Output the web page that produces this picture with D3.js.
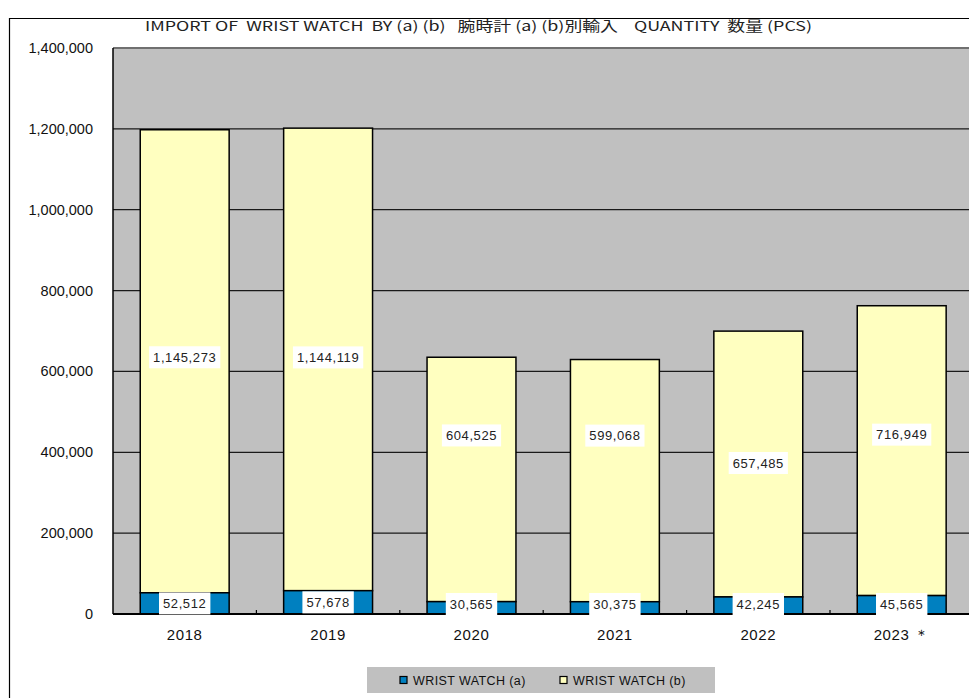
<!DOCTYPE html>
<html>
<head>
<meta charset="utf-8">
<script src="https://cdn.jsdelivr.net/npm/d3@7"></script>
<style>
  body { margin: 0; background: #fff; }
  svg { display: block; }
</style>
</head>
<body>
<div id="chart"></div>
<script>
// data
const years = ["2018", "2019", "2020", "2021", "2022", "2023＊"]
const watchA = [52512, 57678, 30565, 30375, 42245, 45565]
const watchB = [1145273, 1144119, 604525, 599068, 657485, 716949]
const yTicks = [0, 200000, 400000, 600000, 800000, 1000000, 1200000, 1400000]
const seriesNames = ["WRIST WATCH (a)", "WRIST WATCH (b)"]

const width = 969
const height = 698

const svg = d3.select("#chart")
  .append("svg")
    .attr("width", width)
    .attr("height", height)

// outer frame (only left and top visible)
svg.append("path")
  .attr("d", "M9.5,698 L9.5,18.5 L969,18.5")
  .attr("fill", "none")
  .attr("stroke", "#000")
  .attr("stroke-width", 1.2)

const plotLeft = 113, plotTop = 48, plotBottom = 614
const step = 143.4

const x = d3.scaleBand()
  .domain(years)
  .range([plotLeft, plotLeft + step * years.length])
  .padding(0)

const y = d3.scaleLinear()
  .domain([0, 1400000])
  .range([plotBottom, plotTop])

const barW = x.bandwidth() * 0.62

// plot background
svg.append("rect")
  .attr("x", plotLeft)
  .attr("y", plotTop)
  .attr("width", width - plotLeft + 10)
  .attr("height", plotBottom - plotTop)
  .attr("fill", "#c0c0c0")

// gridlines
svg.append("g")
  .selectAll("line")
  .data(yTicks.filter(d => d > 0 && d < 1400000))
  .join("line")
    .attr("x1", plotLeft)
    .attr("x2", width)
    .attr("y1", d => y(d))
    .attr("y2", d => y(d))
    .attr("stroke", "#1a1a1a")
    .attr("stroke-width", 1.3)

// top border of plot
svg.append("line")
  .attr("x1", plotLeft).attr("x2", width)
  .attr("y1", plotTop).attr("y2", plotTop)
  .attr("stroke", "#707070")
  .attr("stroke-width", 2)

// y labels
svg.append("g")
  .selectAll("text")
  .data(yTicks)
  .join("text")
    .attr("x", 93)
    .attr("y", d => y(d) + 5)
    .attr("text-anchor", "end")
    .attr("font-family", "Liberation Sans, Arial, sans-serif")
    .attr("font-size", 14.5)
    .attr("letter-spacing", 0)
    .attr("fill", "#111")
    .text(d => d3.format(",")(d))

// bars
const bars = years.map((yr, i) => ({ yr, a: watchA[i], b: watchB[i] }))
const cx = d => x(d.yr) + x.bandwidth() / 2

svg.append("g")
  .selectAll("rect")
  .data(bars)
  .join("rect")
    .attr("x", d => cx(d) - barW / 2)
    .attr("y", d => y(d.a + d.b))
    .attr("width", barW)
    .attr("height", d => y(d.a) - y(d.a + d.b))
    .attr("fill", "#ffffc0")
    .attr("stroke", "#000")
    .attr("stroke-width", 1.5)

svg.append("g")
  .selectAll("rect")
  .data(bars)
  .join("rect")
    .attr("x", d => cx(d) - barW / 2)
    .attr("y", d => y(d.a))
    .attr("width", barW)
    .attr("height", d => y(0) - y(d.a))
    .attr("fill", "#0080c0")
    .attr("stroke", "#000")
    .attr("stroke-width", 1.5)

// left axis and zero line
svg.append("line")
  .attr("x1", plotLeft).attr("x2", plotLeft)
  .attr("y1", plotTop).attr("y2", plotBottom)
  .attr("stroke", "#000").attr("stroke-width", 1.5)
svg.append("line")
  .attr("x1", plotLeft).attr("x2", width)
  .attr("y1", plotBottom).attr("y2", plotBottom)
  .attr("stroke", "#000").attr("stroke-width", 2)

// inner ticks at category boundaries
svg.append("g")
  .selectAll("line")
  .data(years.slice(1))
  .join("line")
    .attr("x1", d => x(d)).attr("x2", d => x(d))
    .attr("y1", plotBottom).attr("y2", plotBottom - 4)
    .attr("stroke", "#000").attr("stroke-width", 1.2)

// x labels
svg.append("g")
  .selectAll("text")
  .data(years)
  .join("text")
    .attr("x", d => x(d) + x.bandwidth() / 2)
    .attr("y", 640)
    .attr("text-anchor", "middle")
    .attr("font-family", "Liberation Sans, Arial, sans-serif")
    .attr("font-size", 15)
    .attr("letter-spacing", 0.6)
    .attr("fill", "#111")
    .text(d => d.replace("＊", " ＊"))

// data labels, white boxes
// excel had some (b) labels nudged upward from segment middle (px)
const bShift = [4, 2, 44, 45, 1, 16]
const fmt = d3.format(",")

function addLabel(g, px, py, txt) {
  const t = g.append("text")
    .attr("x", px)
    .attr("y", py + 4.5)
    .attr("text-anchor", "middle")
    .attr("font-family", "Liberation Sans, Arial, sans-serif")
    .attr("font-size", 13)
    .attr("letter-spacing", 0.6)
    .attr("fill", "#222")
    .text(txt)
  const w = t.node().getComputedTextLength() + 8
  g.insert("rect", "text")
    .attr("x", px - w / 2)
    .attr("y", py - 11)
    .attr("width", w)
    .attr("height", 22)
    .attr("fill", "#fff")
}

bars.forEach((d, i) => {
  const gb = svg.append("g")
  addLabel(gb, cx(d), (y(d.a) + y(d.a + d.b)) / 2 - bShift[i], fmt(d.b))
  const ga = svg.append("g")
  addLabel(ga, cx(d), Math.min((y(0) + y(d.a)) / 2, 604), fmt(d.a))
})

// title
svg.append("text")
  .attr("x", 145)
  .attr("y", 31)
  .attr("font-family", "Noto Sans CJK JP, sans-serif")
  .attr("font-size", 13.5)
  .attr("textLength", 667)
  .attr("lengthAdjust", "spacingAndGlyphs")
  .attr("fill", "#222")
  .style("white-space", "pre")
  .text("IMPORT OF  WRIST WATCH  BY (a) (b)   腕時計 (a) (b)別輸入    QUANTITY  数量 (PCS)")

// legend
const legend = svg.append("g")
legend.append("rect")
  .attr("x", 367).attr("y", 667)
  .attr("width", 348).attr("height", 26)
  .attr("fill", "#c0c0c0")

const legendColors = ["#0080c0", "#ffffc0"]
const legendX = [400, 560]
seriesNames.forEach((name, i) => {
  legend.append("rect")
    .attr("x", legendX[i]).attr("y", 676.5)
    .attr("width", 7).attr("height", 7)
    .attr("fill", legendColors[i])
    .attr("stroke", "#000").attr("stroke-width", 1.2)
  legend.append("text")
    .attr("x", legendX[i] + 13)
    .attr("y", 685)
    .attr("font-family", "Liberation Sans, Arial, sans-serif")
    .attr("font-size", 12.5)
    .attr("letter-spacing", 0.4)
    .attr("fill", "#111")
    .text(name)
})
</script>
</body>
</html>
